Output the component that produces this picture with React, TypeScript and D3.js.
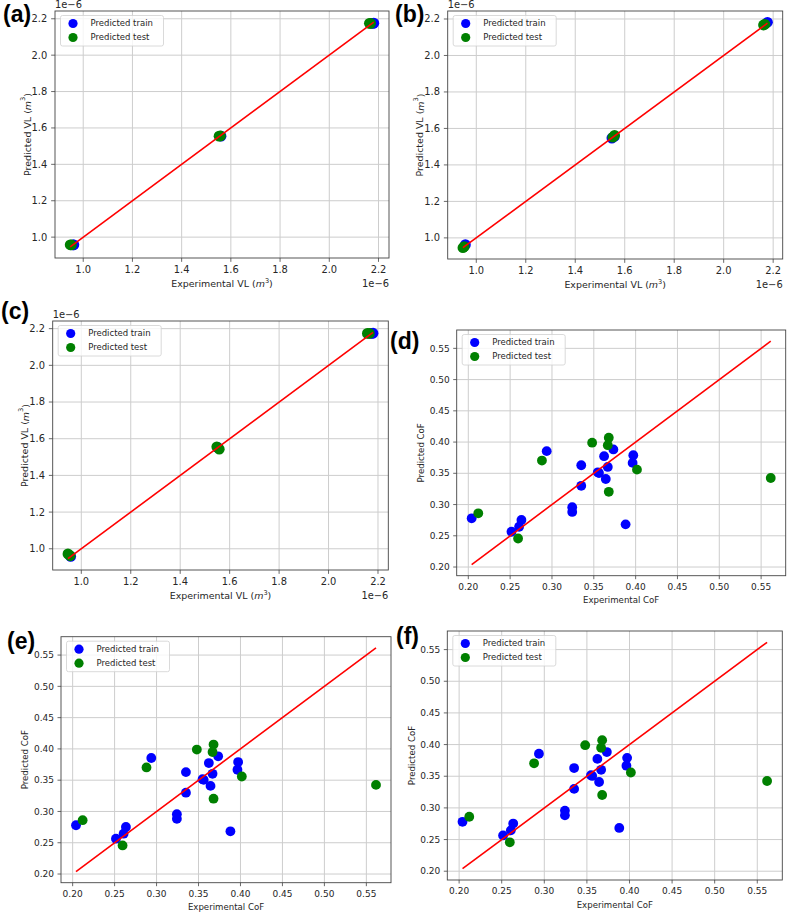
import * as d3 from 'd3';
import React from 'react';

// VL values are in units of 1e-6 m^3 (matplotlib offset text shows "1e−6")
const vlTrainA: [number, number][] = [[0.959, 0.957], [0.962, 0.958], [1.56, 1.555], [2.177, 2.175], [2.181, 2.176]];
const vlTestA: [number, number][] = [[0.947, 0.958], [0.952, 0.957], [1.552, 1.555], [1.558, 1.556], [2.163, 2.175], [2.168, 2.175]];

const vlTrainB: [number, number][] = [[0.956, 0.963], [1.548, 1.547], [1.558, 1.556], [2.177, 2.182]];
const vlTestB: [number, number][] = [[0.946, 0.946], [0.951, 0.952], [1.552, 1.552], [1.559, 1.562], [2.161, 2.167], [2.167, 2.171]];

const vlTrainC: [number, number][] = [[0.957, 0.958], [1.551, 1.553], [2.172, 2.174], [2.18, 2.175]];
const vlTestC: [number, number][] = [[0.946, 0.972], [0.955, 0.962], [1.548, 1.556], [1.558, 1.543], [2.157, 2.174], [2.165, 2.174]];

const cofTrain: [number, number][] = [
  [0.204, 0.278], [0.2516, 0.2565], [0.2607, 0.2645], [0.2635, 0.2753], [0.2937, 0.3855],
  [0.335, 0.3629], [0.335, 0.33], [0.3242, 0.2957], [0.3242, 0.2882], [0.3548, 0.3516],
  [0.3562, 0.3505], [0.3623, 0.3774], [0.3667, 0.3602], [0.3643, 0.3409], [0.3734, 0.3882],
  [0.3972, 0.379], [0.3964, 0.3667], [0.388, 0.2683],
];
const cofTest: [number, number][] = [
  [0.2119, 0.286], [0.2595, 0.2457], [0.288, 0.3704], [0.348, 0.399], [0.3679, 0.407],
  [0.3667, 0.395], [0.3679, 0.3204], [0.4016, 0.3559], [0.5615, 0.3425],
];

const vlTicks = [1.0, 1.2, 1.4, 1.6, 1.8, 2.0, 2.2];
const cofTicks = [0.2, 0.25, 0.3, 0.35, 0.4, 0.45, 0.5, 0.55];
const legendItems = [['Predicted train', 'blue'], ['Predicted test', 'green']];

const kinds = {
  VL: { s: 1.1, ticks: vlTicks, fmt: d3.format('.1f'), xLabel: 'Experimental VL', yLabel: 'Predicted VL', unit: true, yLabelGap: 28, xLabelGap: 28.5, offset: true },
  CoF: { s: 1.0, ticks: cofTicks, fmt: d3.format('.2f'), xLabel: 'Experimental CoF', yLabel: 'Predicted CoF', unit: false, yLabelGap: 35.7, xLabelGap: 27.5, offset: false },
};

const panels = [
  { tag: '(a)', kind: 'VL', frame: [55, 11, 389, 258], train: vlTrainA, test: vlTestA, lx: 3, ly: 22 },
  { tag: '(b)', kind: 'VL', frame: [447.7, 11, 782.7, 259], train: vlTrainB, test: vlTestB, lx: 395, ly: 22 },
  { tag: '(c)', kind: 'VL', frame: [52.7, 321, 388.3, 570], train: vlTrainC, test: vlTestC, lx: 1, ly: 318.5 },
  { tag: '(d)', kind: 'CoF', frame: [456.7, 330, 785.7, 575.7], train: cofTrain, test: cofTest, lx: 390, ly: 348.5 },
  { tag: '(e)', kind: 'CoF', frame: [61, 636.7, 391, 882.7], train: cofTrain, test: cofTest, lx: 7, ly: 648.5 },
  { tag: '(f)', kind: 'CoF', frame: [447.3, 631, 782.3, 880], train: cofTrain, test: cofTest, lx: 396, ly: 643.5 },
];

const font = '"DejaVu Sans", sans-serif';
const txt = '#262626';

const padded = (vals: number[]) => {
  const [a, b] = d3.extent(vals) as [number, number];
  const m = (b - a) * 0.05;
  return [a - m, b + m];
};

const Panel = ({ p }) => {
  const k = kinds[p.kind];
  const s = k.s;
  const [left, top, right, bottom] = p.frame;
  const all = [...p.train, ...p.test];
  const lo = d3.min(all, (d) => d[0]);
  const hi = d3.max(all, (d) => d[0]);
  const line = [[lo, lo], [hi, hi]];
  const x = d3.scaleLinear().domain(padded([...all.map((d) => d[0]), lo, hi])).range([left, right]);
  const y = d3.scaleLinear().domain(padded([...all.map((d) => d[1]), lo, hi])).range([bottom, top]);
  const path = d3.line().x((d) => x(d[0])).y((d) => y(d[1]));
  const tickFs = 9 * s;
  const legFs = 8.5;
  const labFs = 8.6 * s;
  const r = 4.9 * s;
  const tl = 3.5 * s;
  const cx = (left + right) / 2;
  const cy = (top + bottom) / 2;
  const lgX = left + 5.5;
  const lgY = top + 4.5;
  const lgW = 103;
  const lgH = 30.5;

  const label = (t: string) =>
    k.unit ? (
      <>
        {t} (<tspan fontStyle="italic">m</tspan>
        <tspan fontSize={labFs * 0.7} dy={-labFs * 0.4}>3</tspan>
        <tspan dy={labFs * 0.4}>)</tspan>
      </>
    ) : (
      t
    );

  return (
    <g fontFamily={font}>
      <rect x={left} y={top} width={right - left} height={bottom - top} fill="#fff" />
      {k.ticks.map((t) => (
        <g key={'g' + t} stroke="#cdcdcd" strokeWidth={1}>
          <line x1={x(t)} x2={x(t)} y1={top} y2={bottom} />
          <line x1={left} x2={right} y1={y(t)} y2={y(t)} />
        </g>
      ))}
      {p.train.map((d, i) => (
        <circle key={'tr' + i} cx={x(d[0])} cy={y(d[1])} r={r} fill="blue" />
      ))}
      {p.test.map((d, i) => (
        <circle key={'te' + i} cx={x(d[0])} cy={y(d[1])} r={r} fill="green" />
      ))}
      <path d={path(line)} stroke="red" strokeWidth={1.6} fill="none" />
      <rect x={left} y={top} width={right - left} height={bottom - top} fill="none" stroke="#444" strokeWidth={0.9} />
      {k.ticks.map((t) => (
        <g key={'t' + t}>
          <line x1={x(t)} x2={x(t)} y1={bottom} y2={bottom + tl} stroke="#444" strokeWidth={0.8} />
          <text x={x(t)} y={bottom + 2 * tl + tickFs * 0.76} textAnchor="middle" fontSize={tickFs} fill={txt}>
            {k.fmt(t)}
          </text>
          <line x1={left - tl} x2={left} y1={y(t)} y2={y(t)} stroke="#444" strokeWidth={0.8} />
          <text x={left - 2 * tl} y={y(t)} dy="0.35em" textAnchor="end" fontSize={tickFs} fill={txt}>
            {k.fmt(t)}
          </text>
        </g>
      ))}
      <text x={cx} y={bottom + k.xLabelGap} textAnchor="middle" fontSize={labFs} fill={txt}>
        {label(k.xLabel)}
      </text>
      <text
        transform={`translate(${left - k.yLabelGap},${cy}) rotate(-90)`}
        textAnchor="middle"
        dominantBaseline="central"
        fontSize={labFs}
        fill={txt}
      >
        {label(k.yLabel)}
      </text>
      {k.offset && (
        <>
          <text x={left} y={top - 3} fontSize={tickFs} fill={txt}>1e−6</text>
          <text x={right} y={bottom + k.xLabelGap} textAnchor="end" fontSize={tickFs} fill={txt}>1e−6</text>
        </>
      )}
      <g>
        <rect x={lgX} y={lgY} width={lgW} height={lgH} rx={2} fill="#fff" fillOpacity={0.8} stroke="#d0d0d0" strokeWidth={0.8} />
        {legendItems.map(([name, c], i) => {
          const ry = lgY + (i === 0 ? 8 : 22);
          return (
            <g key={name}>
              <circle cx={lgX + 12.5} cy={ry} r={4.6} fill={c} />
              <text x={lgX + 30} y={ry} dy="0.35em" fontSize={legFs} fill={txt}>{name}</text>
            </g>
          );
        })}
      </g>
      <text x={p.lx} y={p.ly} fontFamily='"Liberation Sans", Arial, sans-serif' fontWeight="bold" fontSize={23} fill="#000">
        {p.tag}
      </text>
    </g>
  );
};

export default function App() {
  return (
    <svg width={789} height={912} style={{ position: 'absolute', left: 0, top: 0, background: '#fff' }}>
      <rect width={789} height={912} fill="#fff" />
      {panels.map((p) => (
        <Panel key={p.tag} p={p} />
      ))}
    </svg>
  );
}
